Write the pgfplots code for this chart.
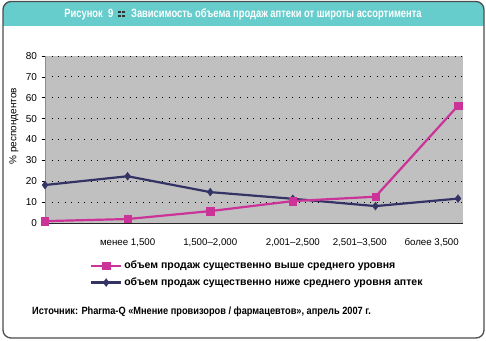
\documentclass[border=0pt]{standalone}
\usepackage{fontspec}
\setmainfont{Liberation Sans}
\newfontfamily\condfont{Liberation Sans}[FakeStretch=0.88]
\newfontfamily\titlefont{Liberation Sans}[FakeStretch=0.78]
\usepackage{pgfplots}
\pgfplotsset{compat=1.18}
\definecolor{titlebar}{RGB}{102,204,204}
\definecolor{pinkc}{RGB}{204,51,153}
\definecolor{navyc}{RGB}{51,51,102}
\definecolor{plotbg}{RGB}{192,192,192}
\newcommand{\sq}{\textcolor{black!80}{\rule{2.6pt}{2.6pt}}}
\newcommand{\icon}{\makebox[7.5pt][l]{\rlap{\raisebox{3.8pt}{\sq\hspace{1.3pt}\sq}}\sq\hspace{1.3pt}\sq}}
\begin{document}
\begin{tikzpicture}[x=1pt,y=1pt]
\path[use as bounding box] (0,0) rectangle (486,-340);
\begin{scope}
\clip[rounded corners=8pt] (3,-1.5) rectangle (484,-338);
\fill[white] (3,-1.5) rectangle (484,-338);
\fill[titlebar] (3,-1.5) rectangle (484,-26);
\end{scope}
\draw[line width=1.3pt, draw=black!70, rounded corners=8pt] (3,-1.5) rectangle (484,-338);
\node[text=white, font=\titlefont\bfseries\fontsize{12}{14}\selectfont, inner sep=0pt] at (243,-14) {Рисунок\ \ 9 \ \icon\ \ Зависимость объема продаж аптеки от широты ассортимента};
\begin{axis}[
  at={(45pt,-223pt)}, anchor=south west,
  scale only axis, width=418pt, height=167pt,
  xmin=0, xmax=5.06, ymin=0, ymax=80,
  ytick={0,10,...,80},
  axis background/.style={fill=plotbg},
  ymajorgrids,
  major grid style={black, line width=0.9pt, dash pattern=on 0.9pt off 5.6pt},
  axis lines*=left,
  x axis line style={black!85, line width=1pt},
  y axis line style={black!45, line width=0.5pt},
  tick align=outside,
  ytick style={black, line width=0.6pt},
  major tick length=3.5pt,
  yticklabel style={font=\fontsize{10}{11}\selectfont, xshift=-1pt},
  /pgf/number format/assume math mode=true,
  xtick={1,2,3,3.81,4.68},
  xticklabels={менее 1{,}500, 1{,}500–2{,}000, 2{,}001–2{,}500, 2{,}501–3{,}500, более 3{,}500},
  xtick style={draw=none},
  xticklabel style={font=\fontsize{9.7}{11}\selectfont, yshift=-8pt, text height=7.6pt, text depth=2pt},
  extra x ticks={1,2,3,4,5.06},
  extra x tick labels={},
  extra x tick style={tick style={draw=black, line width=0.6pt}, major tick length=4pt},
  ylabel={\% респондентов},
  ylabel style={font=\fontsize{10}{11}\selectfont, at={(axis description cs:-0.074,0.58)}, anchor=center},
  legend style={draw=none, fill=none, at={(0.105,-0.21)}, anchor=north west,
     font=\bfseries\fontsize{10.5}{12}\selectfont, row sep=3.5pt, inner sep=1pt},
  legend cell align=left,
  reverse legend,
  legend image code/.code={\draw[#1, mark repeat=2, mark phase=2] plot coordinates {(0pt,0pt) (15pt,0pt) (30pt,0pt)};},
]
\addplot[navyc, line width=2.2pt, mark=diamond*, mark size=4pt, mark options={solid, fill=navyc, draw=navyc, line width=0.3pt}]
  coordinates {(0,18.2) (1,22.4) (2,14.8) (3,11.6) (4,8.1) (5,11.7)};
\addlegendentry{объем продаж существенно ниже среднего уровня аптек}
\addplot[pinkc, line width=2.2pt, mark=square*, mark size=3.6pt, mark options={solid, fill=pinkc, draw=pinkc, line width=0.3pt}]
  coordinates {(0,0.9) (1,1.9) (2,5.7) (3,10.5) (4,12.6) (5,56.2)};
\addlegendentry{объем продаж существенно выше среднего уровня}
\end{axis}
\node[anchor=west, inner sep=0pt, font=\condfont\bfseries\fontsize{10.5}{12}\selectfont] at (32,-312) {Источник: Pharma-Q «Мнение провизоров / фармацевтов», апрель 2007 г.};
\end{tikzpicture}
\end{document}
